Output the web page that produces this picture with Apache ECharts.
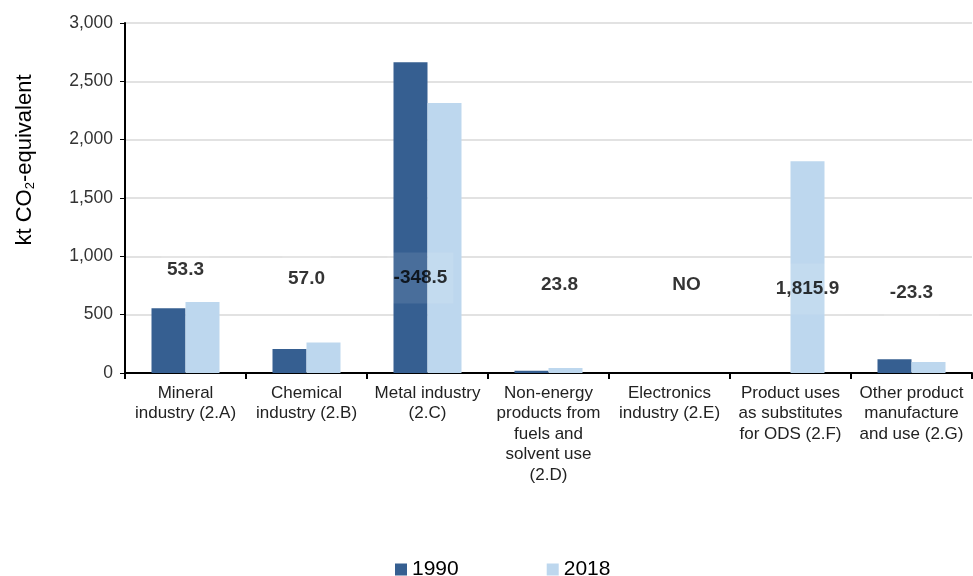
<!DOCTYPE html>
<html><head><meta charset="utf-8">
<script src="https://cdn.jsdelivr.net/npm/echarts@6/dist/echarts.min.js"></script>
<style>html,body{margin:0;padding:0;background:#fff}#c{width:973px;height:576px}</style>
</head><body><div id="c"></div>
<script>
var categories = [
  "Mineral\nindustry (2.A)",
  "Chemical\nindustry (2.B)",
  "Metal industry\n(2.C)",
  "Non-energy\nproducts from\nfuels and\nsolvent use\n(2.D)",
  "Electronics\nindustry (2.E)",
  "Product uses\nas substitutes\nfor ODS (2.F)",
  "Other product\nmanufacture\nand use (2.G)"
];
var values1990 = [555, 205, 2663, 20, 0, 0, 117];
var values2018 = [608.3, 262, 2314.5, 43.8, 0, 1815.9, 93.7];
var changeLabels = ["53.3", "57.0", "-348.5", "23.8", "NO", "1,815.9", "-23.3"];
var yTicks = { min: 0, max: 3000, interval: 500 };

// label placement (style, not data)
var labelY = [883, 806, 814, 754, 754, 720, 686];
var labelDX = [0, 0, -7, 11, 17, 17, 0];

var chart = echarts.init(document.getElementById('c'));
var font = 'Liberation Sans, Arial, sans-serif';
chart.setOption({
  animation: false,
  textStyle: { fontFamily: font },
  grid: { left: 125, right: 1, top: 23, bottom: 203 },
  legend: {
    data: ['1990', '2018'],
    top: 554, left: 390,
    itemWidth: 12, itemHeight: 12, itemGap: 88,
    icon: 'rect',
    textStyle: { fontSize: 21, color: '#000', fontFamily: font }
  },
  xAxis: {
    type: 'category',
    data: categories,
    axisLine: { lineStyle: { color: '#000', width: 2 } },
    axisTick: { show: true, length: 6, lineStyle: { color: '#000', width: 2 } },
    axisLabel: { interval: 0, color: '#222', fontSize: 17, lineHeight: 20.5, margin: 10, fontFamily: font }
  },
  yAxis: {
    type: 'value',
    min: yTicks.min, max: yTicks.max, interval: yTicks.interval,
    name: '{a|kt CO}{s|2}{a|-equivalent}',
    nameLocation: 'middle', nameGap: 88, nameRotate: 90,
    nameTextStyle: {
      padding: [0, 0, 0, 76],
      rich: {
        a: { fontSize: 22, color: '#000', fontFamily: font },
        s: { fontSize: 13, color: '#000', fontFamily: font, verticalAlign: 'bottom', padding: [11, 0, 0, 0] }
      }
    },
    axisLine: { show: true, lineStyle: { color: '#000', width: 2 } },
    axisTick: { show: true, length: 5, lineStyle: { color: '#000' } },
    splitLine: { lineStyle: { color: '#d9d9d9', width: 1.5 } },
    axisLabel: {
      color: '#333', fontSize: 17.5, margin: 12, fontFamily: font,
      formatter: function (v) { return v.toLocaleString('en-US'); }
    }
  },
  series: [
    { name: '1990', type: 'bar', data: values1990, barWidth: 34, barGap: '0%',
      itemStyle: { color: '#365f91' } },
    { name: '2018', type: 'bar', data: values2018, barWidth: 34, barGap: '0%',
      itemStyle: { color: '#bdd7ee' } },
    { name: 'change', type: 'scatter', symbolSize: 0, silent: true, z: 10,
      data: changeLabels.map(function (t, i) { return { value: [i, labelY[i]], name: t }; }),
      label: {
        show: true, position: 'inside',
        formatter: function (p) { return p.name; },
        fontSize: 19, fontWeight: 'bold', color: '#000', fontFamily: font,
        backgroundColor: 'rgba(255,255,255,0.12)', padding: [16, 6]
      },
      labelLayout: function (p) { return { dx: labelDX[p.dataIndex] }; }
    }
  ]
});
</script></body></html>
